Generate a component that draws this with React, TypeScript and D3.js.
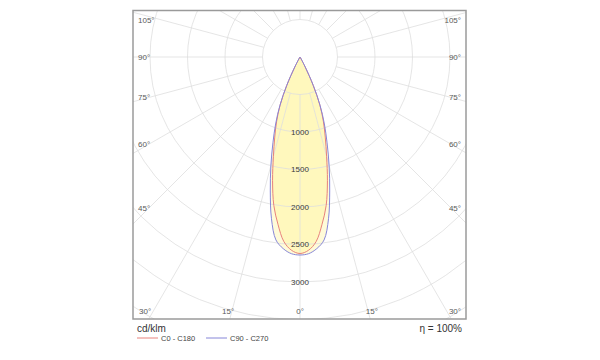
import React from "react";
import * as d3 from "d3";

// Photometric data (cd/klm) at gamma angles (degrees from nadir)
const gammaAngles = [0, 2.5, 5, 7.5, 10, 12.5, 15, 17.5, 20, 22.5, 25, 27.5, 30, 32.5, 35];
const c0c180 = [2620, 2580, 2470, 2250, 2010, 1690, 1370, 1120, 910, 690, 420, 150, 30, 5, 0];
const c90c270 = [2640, 2625, 2565, 2460, 2190, 1830, 1500, 1200, 950, 700, 420, 150, 30, 5, 0];

const ringValues = [500, 1000, 1500, 2000, 2500, 3000, 3500, 4000, 4500, 5000];
const ringLabels = [1000, 1500, 2000, 2500, 3000];
const spokeAngles = d3.range(0, 360, 15);
const sideLabels = [45, 60, 75, 90, 105];
const bottomLabels = [-30, -15, 0, 15, 30];
const seriesNames = ["C0 - C180", "C90 - C270"];
const seriesColors = ["#e8827c", "#8686d8"];
const efficiencyText = "η = 100%";
const unitText = "cd/klm";

const W = 600, H = 360;
const CX = 300, CY = 57;
const FRAME = { x0: 133, y0: 10.5, x1: 466, y1: 319 };
const FONT = "'Liberation Sans', Arial, sans-serif";

const r = d3.scaleLinear().domain([0, 500]).range([0, 37.5]);
const rad = (d: number) => (d * Math.PI) / 180;
const px = (theta: number, v: number) => CX + r(v) * Math.sin(rad(theta));
const py = (theta: number, v: number) => CY + r(v) * Math.cos(rad(theta));

function curvePath(values: number[]) {
  const pts: [number, number][] = [];
  for (let i = gammaAngles.length - 1; i >= 0; i--) {
    pts.push([px(gammaAngles[i], values[i]), py(gammaAngles[i], values[i])]);
  }
  for (let i = 1; i < gammaAngles.length - 1; i++) {
    pts.push([px(-gammaAngles[i], values[i]), py(-gammaAngles[i], values[i])]);
  }
  return d3.line().curve(d3.curveCatmullRomClosed.alpha(0.5))(pts) || "";
}

export default function App() {
  const off = (a: number) => 1.6 * Math.sin(rad(2 * a));
  const sideY = (a: number) => {
    const phi = rad(a + off(a));
    const dx = CX - 140;
    const y = CY + (dx * Math.cos(phi)) / Math.sin(phi);
    return Math.max(20.5, y);
  };
  const bottomX = (a: number) => {
    const s = Math.sign(a);
    const phi = rad(Math.abs(a) + off(Math.abs(a)));
    return CX + s * (311 - CY) * Math.tan(phi);
  };

  return (
    <svg width={W} height={H} style={{ position: "absolute", left: 0, top: 0, background: "#fff" }}>
      <defs>
        <clipPath id="frameClip">
          <rect x={FRAME.x0} y={FRAME.y0} width={FRAME.x1 - FRAME.x0} height={FRAME.y1 - FRAME.y0} />
        </clipPath>
      </defs>
      <rect width={W} height={H} fill="#fff" />
      <g clipPath="url(#frameClip)">
        {[c0c180, c90c270].map((vals, i) => (
          <path key={"f" + i} d={curvePath(vals)} fill="#fff27e" fillOpacity={0.3} stroke="none" />
        ))}
        {ringValues.map((v) => (
          <circle key={"c" + v} cx={CX} cy={CY} r={r(v)} fill="none" stroke="#dedede" strokeWidth={0.8} />
        ))}
        {spokeAngles.map((a) => (
          <line
            key={"s" + a}
            x1={px(a, 500)}
            y1={py(a, 500)}
            x2={px(a, 6000)}
            y2={py(a, 6000)}
            stroke="#dedede"
            strokeWidth={0.8}
          />
        ))}
        {[c0c180, c90c270].map((vals, i) => (
          <path key={"l" + i} d={curvePath(vals)} fill="none" stroke={seriesColors[i]} strokeWidth={1} />
        ))}
      </g>
      <rect
        x={FRAME.x0}
        y={FRAME.y0}
        width={FRAME.x1 - FRAME.x0}
        height={FRAME.y1 - FRAME.y0}
        fill="none"
        stroke="#9a9a9a"
        strokeWidth={1.5}
      />
      {ringLabels.map((v) => (
        <text
          key={"rl" + v}
          x={CX}
          y={CY + r(v)}
          dy="0.35em"
          textAnchor="middle"
          fontFamily={FONT}
          fontSize={8}
          fill="#3a3a3a"
        >
          {v}
        </text>
      ))}
      {sideLabels.map((a) => (
        <g key={"sl" + a}>
          <text x={138} y={sideY(a)} dy="0.35em" textAnchor="start" fontFamily={FONT} fontSize={8} fill="#5a5a5a">
            {a}°
          </text>
          <text x={461} y={sideY(a)} dy="0.35em" textAnchor="end" fontFamily={FONT} fontSize={8} fill="#5a5a5a">
            {a}°
          </text>
        </g>
      ))}
      {bottomLabels.map((a) => (
        <text
          key={"bl" + a}
          x={bottomX(a)}
          y={311}
          dy="0.35em"
          textAnchor="middle"
          fontFamily={FONT}
          fontSize={8}
          fill="#5a5a5a"
        >
          {Math.abs(a)}°
        </text>
      ))}
      <text x={137} y={328} dy="0.35em" fontFamily={FONT} fontSize={10} fill="#333">
        {unitText}
      </text>
      <text x={462} y={328} dy="0.35em" textAnchor="end" fontFamily={FONT} fontSize={10} fill="#333">
        {efficiencyText}
      </text>
      {seriesNames.map((name, i) => {
        const x0 = i === 0 ? 137 : 206;
        return (
          <g key={"lg" + i}>
            <line x1={x0} y1={338} x2={x0 + 21} y2={338} stroke={seriesColors[i]} strokeWidth={1} />
            <text x={x0 + 24} y={338} dy="0.35em" fontFamily={FONT} fontSize={7.5} fill="#444">
              {name}
            </text>
          </g>
        );
      })}
    </svg>
  );
}
